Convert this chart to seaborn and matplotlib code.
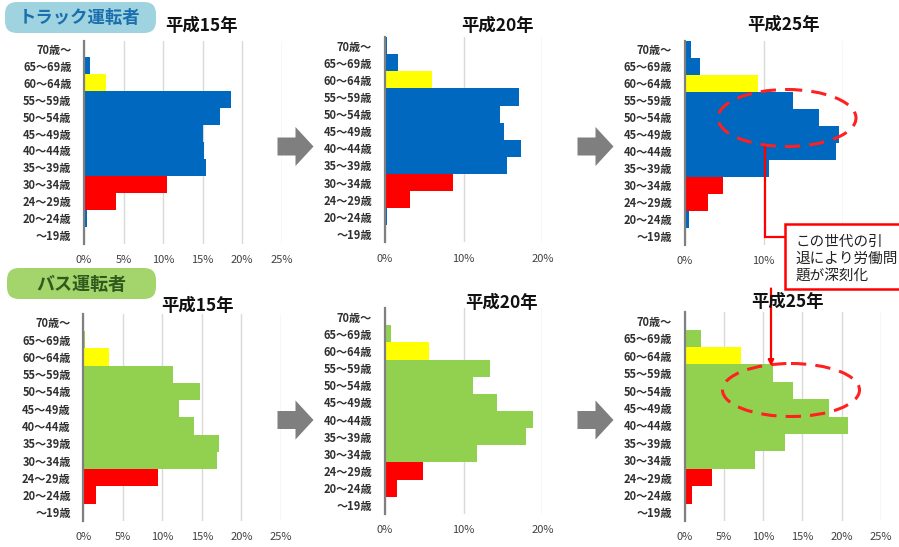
import numpy as np
import pandas as pd
import matplotlib
matplotlib.use("Agg")
import matplotlib.pyplot as plt
from matplotlib.patches import Ellipse, FancyBboxPatch, Rectangle, Polygon
import seaborn as sns

sns.set_theme(style="white")
plt.rcParams["font.family"] = ["Noto Sans CJK JP", "DejaVu Sans"]

# Age brackets, oldest at the top
ages = ["70歳〜", "65〜69歳", "60〜64歳", "55〜59歳", "50〜54歳", "45〜49歳",
        "40〜44歳", "35〜39歳", "30〜34歳", "24〜29歳", "20〜24歳", "〜19歳"]

# Share of drivers per age bracket (%)
truck_h15 = [0.0, 0.7, 2.8, 18.6, 17.2, 15.0, 15.2, 15.4, 10.5, 4.1, 0.4, 0.0]
truck_h20 = [0.3, 1.65, 6.0, 17.0, 14.6, 15.1, 17.3, 15.5, 8.7, 3.25, 0.3, 0.0]
truck_h25 = [0.8, 1.9, 9.3, 13.75, 17.0, 19.5, 19.2, 10.7, 4.8, 3.0, 0.5, 0.0]
bus_h15 = [0.0, 0.2, 3.25, 11.3, 14.7, 12.1, 14.0, 17.2, 16.9, 9.45, 1.6, 0.0]
bus_h20 = [0.0, 0.8, 5.66, 13.3, 11.2, 14.2, 18.8, 17.9, 11.75, 4.8, 1.5, 0.0]
bus_h25 = [0.0, 2.1, 7.2, 11.2, 13.85, 18.4, 20.75, 12.75, 8.9, 3.5, 0.9, 0.0]

# Colour group of each bracket
truck_groups = ["main", "main", "senior", "main", "main", "main",
                "main", "main", "young", "young", "main", "main"]
bus_groups = ["main", "main", "senior", "main", "main", "main",
              "main", "main", "main", "young", "young", "main"]

titles = ["平成15年", "平成20年", "平成25年"]

W, H = 899, 547
fig = plt.figure(figsize=(W / 100, H / 100), dpi=100)
fig.patch.set_facecolor("white")


def px_axes(left, top, right, bottom, **kw):
    return fig.add_axes([left / W, 1 - bottom / H, (right - left) / W, (bottom - top) / H], **kw)


def panel(box, values, groups, main_color, xmax, step, title, title_xy, hide_last=False):
    ax = px_axes(*box)
    df = pd.DataFrame({"age": ages, "pct": values, "grp": groups})
    pal = {"main": main_color, "senior": "#FFFF00", "young": "#FF0000"}
    sns.barplot(data=df, x="pct", y="age", hue="grp", palette=pal, order=ages,
                dodge=False, width=1.0, saturation=1, errorbar=None,
                legend=False, linewidth=0, ax=ax)
    ax.set_xlim(0, xmax)
    ax.set_ylim(len(ages) - 0.5, -0.5)
    ticks = np.arange(0, xmax + 0.01, step)
    labels = [f"{int(t)}%" for t in ticks]
    if hide_last:
        # the last label sits under the callout box
        labels[-1] = ""
    ax.set_xticks(ticks)
    ax.set_xticklabels(labels, fontsize=8, color="#404040")
    ax.set_yticks(range(len(ages)))
    ax.set_yticklabels(ages, fontsize=8, color="#303030", fontweight="bold")
    ax.tick_params(axis="both", length=0)
    ax.tick_params(axis="x", pad=8)
    ax.tick_params(axis="y", pad=9)
    ax.set_xlabel("")
    ax.set_ylabel("")
    ax.xaxis.grid(True, color="#d9d9d9", linewidth=1)
    ax.yaxis.grid(False)
    ax.set_axisbelow(True)
    for s in ["top", "right", "bottom"]:
        ax.spines[s].set_visible(False)
    ax.spines["left"].set_color("#808080")
    ax.spines["left"].set_linewidth(1.6)
    ax.set_facecolor("none")
    fig.text(title_xy[0] / W, 1 - title_xy[1] / H, title, fontsize=12.5,
             fontweight="bold", ha="center", va="center", color="#111111")
    return ax


blue, green = "#0068BE", "#92D050"

panel((84, 40.5, 281.5, 243.5), truck_h15, truck_groups, blue, 25, 5, titles[0], (201, 26))
panel((384.7, 37.1, 542.3, 242.4), truck_h20, truck_groups, blue, 20, 10, titles[1], (497, 26))
panel((684.7, 40.8, 842.7, 244.8), truck_h25, truck_groups, blue, 20, 10, titles[2], (783, 25),
      hide_last=True)
panel((83.3, 313.7, 281, 521), bus_h15, bus_groups, green, 25, 5, titles[0], (197, 306))
panel((384.7, 308.1, 542.3, 513.9), bus_h20, bus_groups, green, 20, 10, titles[1], (502, 303))
panel((684.7, 312.3, 881, 521), bus_h25, bus_groups, green, 25, 5, titles[2], (788, 302))

# Overlay in pixel coordinates for headers, arrows and callouts
ov = px_axes(0, 0, W, H)
ov.set_xlim(0, W)
ov.set_ylim(H, 0)
ov.axis("off")
ov.set_facecolor("none")

# Section headers
ov.add_patch(FancyBboxPatch((5, 2), 151, 31, boxstyle="round,pad=0,rounding_size=12",
                            fc="#9ED3DF", ec="none"))
ov.text(80, 18, "トラック運転者", fontsize=12.5, fontweight="bold", color="#1B6FAE",
        ha="center", va="center")
ov.add_patch(FancyBboxPatch((7, 268), 149, 31, boxstyle="round,pad=0,rounding_size=12",
                            fc="#A3D56C", ec="none"))
ov.text(81, 284, "バス運転者", fontsize=13, fontweight="bold", color="#2E5A1E",
        ha="center", va="center")

# Grey block arrows between years
def block_arrow(x0, yc):
    pts = [(x0, yc - 9), (x0 + 18, yc - 9), (x0 + 18, yc - 19.5), (x0 + 36, yc),
           (x0 + 18, yc + 19.5), (x0 + 18, yc + 9), (x0, yc + 9)]
    ov.add_patch(Polygon(pts, closed=True, fc="#7F7F7F", ec="none"))

for x0 in (277.5, 577.5):
    block_arrow(x0, 146.5)
    block_arrow(x0, 420)

# Dashed ellipses around the 45-59 age groups
for cx, cy, w, h in [(787, 118, 138, 57), (791, 390, 137, 53)]:
    ov.add_patch(Ellipse((cx, cy), w, h, fill=False, ec="#FF2020", lw=2.2,
                         linestyle=(0, (5, 3))))

# Callout box and connectors
ov.plot([765, 765, 785], [147, 237, 237], color="#FF0000", lw=1.6, solid_joinstyle="miter")
ov.add_patch(Rectangle((785, 223.5), 130, 65, fc="white", ec="#FF0000", lw=1.8))
ov.text(795, 259, "この世代の引\n退により労働問\n題が深刻化", fontsize=10.5,
        color="#222222", ha="left", va="center", linespacing=1.25)
ov.annotate("", xy=(771, 366), xytext=(771, 288.5),
            arrowprops=dict(arrowstyle="-|>", color="#FF0000", lw=1.6,
                            mutation_scale=8, shrinkA=0, shrinkB=0))

fig.savefig("out.png", dpi=100)
